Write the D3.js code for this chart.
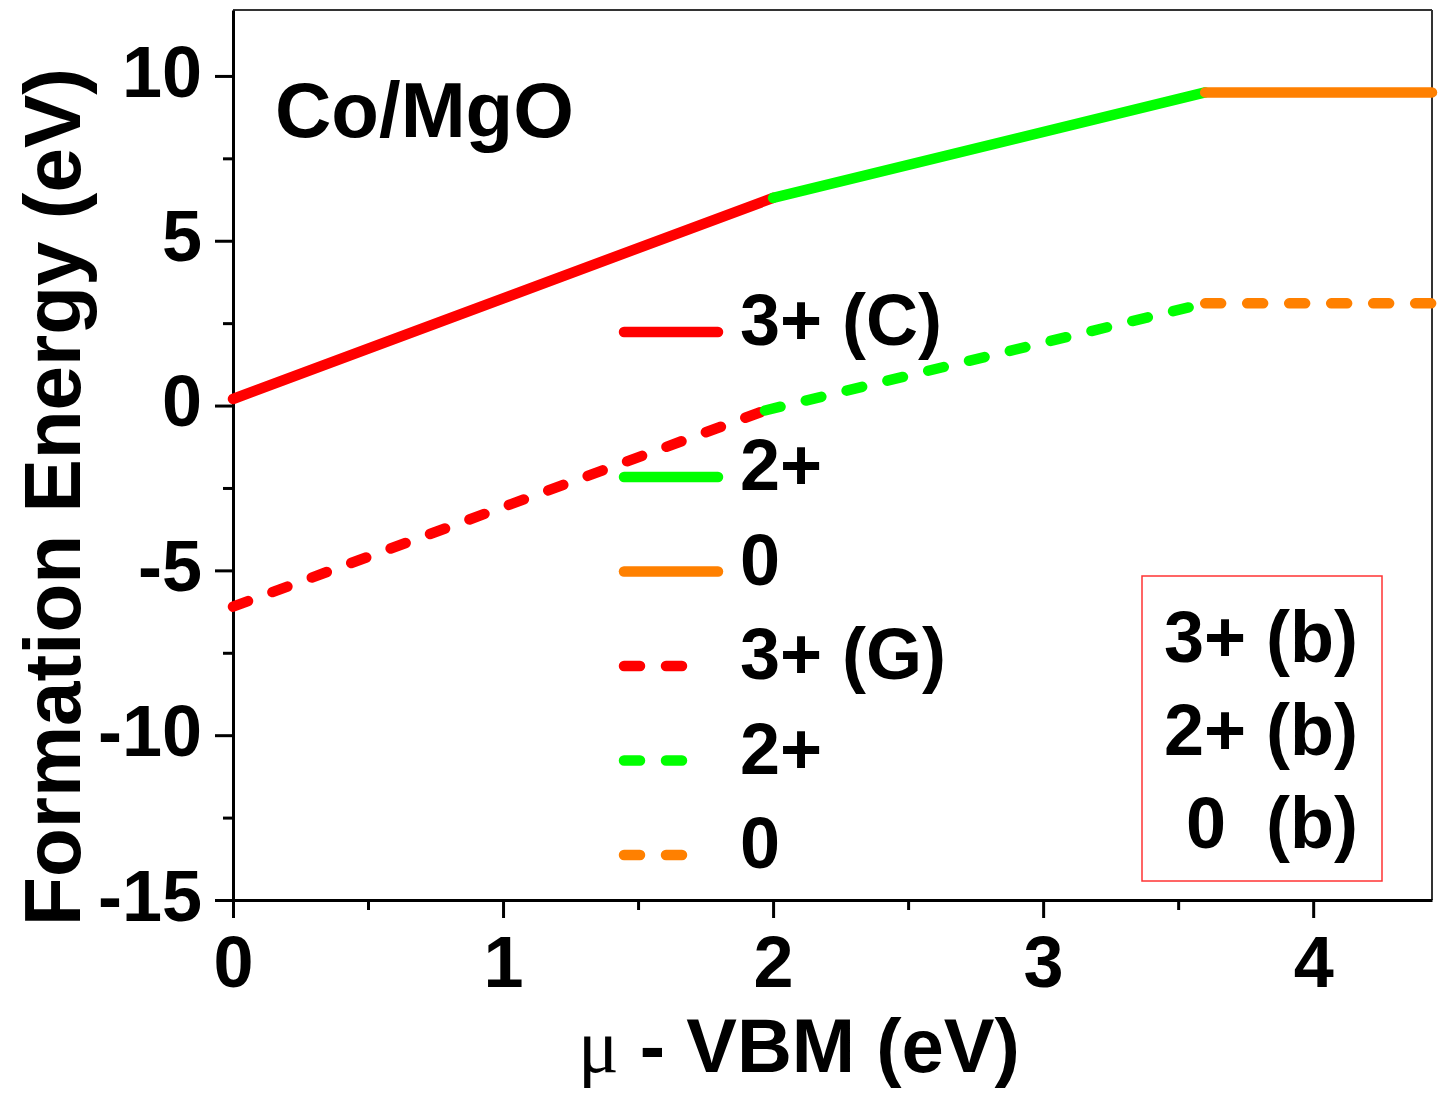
<!DOCTYPE html>
<html>
<head>
<meta charset="utf-8">
<script src="https://cdn.jsdelivr.net/npm/d3@7"></script>
<style>
  body { margin: 0; background: #fff; }
  text { font-family: "Liberation Sans", Arial, sans-serif; font-weight: bold; }
</style>
</head>
<body>
<div id="chart"></div>
<script>
// data
var solidRed = [[0, 0.2], [2, 6.3]];
var solidGreen = [[2, 6.3], [3.6, 9.5]];
var solidOrange = [[3.6, 9.5], [4.44, 9.5]];
var dashRed = [[0, -6.1], [1.97, -0.15]];
var dashGreen = [[1.97, -0.15], [3.6, 3.1]];
var dashOrange = [[3.6, 3.1], [4.44, 3.1]];

var xTicks = [0, 1, 2, 3, 4];
var xMinor = [0.5, 1.5, 2.5, 3.5];
var yTicks = [-15, -10, -5, 0, 5, 10];
var yMinor = [-12.5, -7.5, -2.5, 2.5, 7.5];

var legendLabels = ["3+ (C)", "2+", "0", "3+ (G)", "2+", "0"];
var legendColors = ["#ff0000", "#00ff00", "#ff8000", "#ff0000", "#00ff00", "#ff8000"];
var legendDashed = [false, false, false, true, true, true];
var boxLabels = ["3+ (b)", "2+ (b)", "0  (b)"];

var series = [
  {pts: solidRed, color: "#ff0000", dashed: false},
  {pts: solidGreen, color: "#00ff00", dashed: false},
  {pts: solidOrange, color: "#ff8000", dashed: false},
  {pts: dashRed, color: "#ff0000", dashed: true},
  {pts: dashGreen, color: "#00ff00", dashed: true},
  {pts: dashOrange, color: "#ff8000", dashed: true}
];

var W = 1446, H = 1099;
var margin = {top: 10, right: 14, bottom: 199, left: 233};
var width = W - margin.left - margin.right;
var height = H - margin.top - margin.bottom;

var svg = d3.select("#chart").append("svg")
    .attr("width", W).attr("height", H);
var g = svg.append("g")
    .attr("transform", `translate(${margin.left},${margin.top})`);

var x = d3.scaleLinear().domain([0, 4.44]).range([0, width]);
var y = d3.scaleLinear().domain([-15, 12]).range([height, 0]);

// plain labels, hyphen minus
var fmt = d => String(d);

// frame top / right
g.append("line").attr("x1", 0).attr("x2", width).attr("y1", 0).attr("y2", 0)
    .attr("stroke", "#333").attr("stroke-width", 2);
g.append("line").attr("x1", width).attr("x2", width).attr("y1", 0).attr("y2", height)
    .attr("stroke", "#333").attr("stroke-width", 2);

// minor ticks
g.append("g").attr("transform", `translate(0,${height})`)
    .call(d3.axisBottom(x).tickValues(xMinor).tickSize(10).tickFormat(""))
    .call(a => a.select(".domain").remove());
g.append("g")
    .call(d3.axisLeft(y).tickValues(yMinor).tickSize(10).tickFormat(""))
    .call(a => a.select(".domain").remove());

// major axes
var xAxis = g.append("g").attr("transform", `translate(0,${height})`)
    .call(d3.axisBottom(x).tickValues(xTicks).tickFormat(fmt)
        .tickSize(18).tickSizeOuter(0).tickPadding(18));
var yAxis = g.append("g")
    .call(d3.axisLeft(y).tickValues(yTicks).tickFormat(fmt)
        .tickSize(18).tickSizeOuter(0).tickPadding(13));

g.selectAll(".tick line").attr("stroke", "#000").attr("stroke-width", 3);
g.selectAll(".domain").attr("stroke", "#000").attr("stroke-width", 3);
g.selectAll(".tick text").attr("font-size", 72).attr("fill", "#000")
    .attr("font-family", "Liberation Sans, Arial, sans-serif").attr("font-weight", "bold");
yAxis.selectAll(".tick text").attr("dy", "0.28em");

// lines
var line = d3.line().x(d => x(d[0])).y(d => y(d[1]));
g.selectAll(".series").data(series).enter().append("path")
    .attr("class", "series")
    .attr("d", d => line(d.pts))
    .attr("fill", "none")
    .attr("stroke", d => d.color)
    .attr("stroke-width", 10.5)
    .attr("stroke-linecap", "round")
    .attr("stroke-dasharray", d => d.dashed ? "16,26" : null);

// label
svg.append("text").attr("x", 275).attr("y", 137)
    .attr("font-size", 78).text("Co/MgO");

// legend
var legendY = legendLabels.map((d, i) => i === 0 ? 332 : 477 + (i - 1) * 94.5);
var leg = svg.append("g");
legendLabels.forEach(function(lab, i) {
  var ly = legendY[i];
  leg.append("line")
      .attr("x1", 624).attr("x2", legendDashed[i] ? 682 : 718)
      .attr("y1", ly).attr("y2", ly)
      .attr("stroke", legendColors[i]).attr("stroke-width", 10.5)
      .attr("stroke-linecap", "round")
      .attr("stroke-dasharray", legendDashed[i] ? "16,26" : null);
  leg.append("text").attr("x", 740).attr("y", ly + 13)
      .attr("font-size", 72).text(lab);
});

// boxed labels
svg.append("rect").attr("x", 1142).attr("y", 576).attr("width", 240).attr("height", 305)
    .attr("fill", "none").attr("stroke", "#ff3333").attr("stroke-width", 1.5);
boxLabels.forEach(function(lab, i) {
  svg.append("text").attr("x", 1358).attr("y", 662 + i * 93)
      .attr("text-anchor", "end").attr("font-size", 72)
      .style("white-space", "pre").text(lab);
});

// axis titles
svg.append("text")
    .attr("transform", "translate(80,497) rotate(-90)")
    .attr("text-anchor", "middle").attr("font-size", 80)
    .text("Formation Energy (eV)");

var xt = svg.append("text").attr("x", 578).attr("y", 1072).attr("font-size", 76);
xt.append("tspan").attr("font-family", "Liberation Serif, Times New Roman, serif")
    .attr("font-weight", "normal").text("μ");
xt.append("tspan").style("white-space", "pre").text(" - VBM (eV)");
</script>
</body>
</html>
